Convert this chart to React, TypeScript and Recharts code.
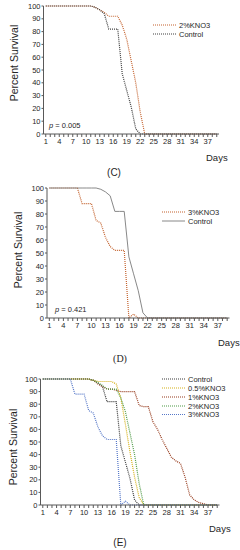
import { LineChart, Line, XAxis, YAxis } from "recharts";

// days 1..39 on a category-like numeric axis
const days = [
  1, 2, 3, 4, 5, 6, 7, 8, 9, 10, 11, 12, 13, 14, 15, 16, 17, 18, 19, 20,
  21, 22, 23, 24, 25, 26, 27, 28, 29, 30, 31, 32, 33, 34, 35, 36, 37, 38, 39,
];
const dayLabels = [1, 4, 7, 10, 13, 16, 19, 22, 25, 28, 31, 34, 37];
const percentTicks = [0, 10, 20, 30, 40, 50, 60, 70, 80, 90, 100];

// percent survival per day
const control = [
  100, 100, 100, 100, 100, 100, 100, 100, 100, 100, 100, 99, 97, 94, 82, 82, 82, 47, 34, 21,
  4, 0, 0, 0, 0, 0, 0, 0, 0, 0, 0, 0, 0, 0, 0, 0, 0, 0, 0,
];
const kno3_05 = [
  100, 100, 100, 100, 100, 100, 100, 100, 100, 100, 100, 99, 98, 98, 98, 98, 96, 85, 64, 42,
  22, 6, 0, 0, 0, 0, 0, 0, 0, 0, 0, 0, 0, 0, 0, 0, 0, 0, 0,
];
const kno3_1 = [
  100, 100, 100, 100, 100, 100, 100, 100, 100, 100, 100, 99, 96, 94, 92, 92, 91, 90, 90, 90,
  90, 79, 78, 78, 66, 60, 52, 45, 38, 35, 33, 22, 8, 4, 2, 1, 0, 0, 0,
];
const kno3_2 = [
  100, 100, 100, 100, 100, 100, 100, 100, 100, 100, 100, 99, 97, 95, 92, 92, 92, 85, 74, 57,
  40, 17, 0, 0, 0, 0, 0, 0, 0, 0, 0, 0, 0, 0, 0, 0, 0, 0, 0,
];
const kno3_3 = [
  100, 100, 100, 100, 100, 100, 100, 88, 88, 88, 75, 73, 62, 55, 52, 52, 52, 0, 3, 0,
  0, 0, 0, 0, 0, 0, 0, 0, 0, 0, 0, 0, 0, 0, 0, 0, 0, 0, 0,
];

const rows = days.map((day, i) => ({
  day,
  control: control[i],
  kno3_05: kno3_05[i],
  kno3_1: kno3_1[i],
  kno3_2: kno3_2[i],
  kno3_3: kno3_3[i],
}));

const FONT = '"Liberation Sans", Arial, sans-serif';
const INK = "#262626";
const AXIS = "#595959";
const ORANGE = "#c4632f";
const DOT = "1 1";

type Series = { key: string; name: string; color: string; dash?: string; width?: number };

type PanelProps = {
  top: number;
  height: number;
  plotTop: number;
  plotBottom: number;
  plotLeft: number;
  plotRight: number;
  series: Series[];
  legendX: number;
  legendRows: number[];
  title: [number, number];
  pValue?: { text: string; x: number; y: number };
  daysAt: [number, number];
  caption: { text: string; x: number; y: number; serif?: boolean };
};

function Panel(p: PanelProps) {
  const rel = (y: number) => y - p.top;
  const abs = { position: "absolute" as const, whiteSpace: "nowrap" as const, lineHeight: 1, color: INK };

  return (
    <div style={{ position: "absolute", left: 0, top: p.top, width: 240, height: p.height }}>
      <LineChart
        width={240}
        height={p.height}
        data={rows}
        margin={{ top: rel(p.plotTop), right: 240 - p.plotRight, bottom: 0, left: 0 }}
      >
        <XAxis
          type="number"
          dataKey="day"
          domain={[0.5, 39.5]}
          ticks={days}
          interval={0}
          tickFormatter={(v) => (dayLabels.includes(v) ? String(v) : "")}
          height={p.height - rel(p.plotBottom)}
          tickSize={3}
          tickMargin={2}
          stroke={AXIS}
          tick={{ fill: INK, fontSize: 7.5, fontFamily: FONT }}
        />
        <YAxis
          type="number"
          domain={[0, 100]}
          ticks={percentTicks}
          interval={0}
          width={p.plotLeft}
          tickSize={2}
          tickMargin={1}
          stroke={AXIS}
          tick={{ fill: INK, fontSize: 7.5, fontFamily: FONT }}
        />
        {p.series.map((s) => (
          <Line
            key={s.key}
            type="linear"
            dataKey={s.key}
            name={s.name}
            stroke={s.color}
            strokeWidth={s.width ?? 1.2}
            strokeDasharray={s.dash}
            dot={false}
            isAnimationActive={false}
          />
        ))}
      </LineChart>

      {/* legend */}
      <svg style={{ position: "absolute", left: 0, top: 0, overflow: "visible" }} width={240} height={p.height}>
        {p.series.map((s, i) => (
          <g key={s.key}>
            <line
              x1={p.legendX}
              x2={p.legendX + 23}
              y1={rel(p.legendRows[i])}
              y2={rel(p.legendRows[i])}
              stroke={s.color}
              strokeWidth={s.width ?? 1.2}
              strokeDasharray={s.dash}
            />
            <text
              x={p.legendX + 26}
              y={rel(p.legendRows[i])}
              dy="0.35em"
              fontSize={7.5}
              fontFamily={FONT}
              fill={INK}
            >
              {s.name}
            </text>
          </g>
        ))}
      </svg>

      <div
        style={{
          ...abs,
          left: p.title[0],
          top: rel(p.title[1]),
          fontSize: 10.5,
          transform: "translate(-50%, -50%) rotate(-90deg)",
        }}
      >
        Percent Survival
      </div>

      {p.pValue && (
        <div style={{ ...abs, left: p.pValue.x, top: rel(p.pValue.y), fontSize: 7.5, transform: "translateY(-50%)" }}>
          <i>p</i> = {p.pValue.text}
        </div>
      )}

      <div style={{ ...abs, left: p.daysAt[0], top: rel(p.daysAt[1]), fontSize: 9.5, transform: "translateY(-50%)" }}>
        Days
      </div>

      <div
        style={{
          ...abs,
          left: p.caption.x,
          top: rel(p.caption.y),
          fontSize: 10,
          fontFamily: p.caption.serif ? '"Liberation Serif", serif' : FONT,
          transform: "translate(-50%, -50%)",
        }}
      >
        {p.caption.text}
      </div>
    </div>
  );
}

export default function App() {
  return (
    <div
      style={{
        position: "absolute",
        left: 0,
        top: 0,
        width: 240,
        height: 550,
        overflow: "hidden",
        background: "#fff",
        fontFamily: FONT,
      }}
    >
      <Panel
        top={0}
        height={150}
        plotTop={6}
        plotBottom={134}
        plotLeft={43.5}
        plotRight={219}
        series={[
          { key: "kno3_2", name: "2%KNO3", color: ORANGE, dash: DOT },
          { key: "control", name: "Control", color: "#404040", dash: DOT },
        ]}
        legendX={153}
        legendRows={[25, 34]}
        title={[14, 63]}
        pValue={{ text: "0.005", x: 49, y: 126 }}
        daysAt={[206, 158]}
        caption={{ text: "(C)", x: 114, y: 173 }}
      />
      <Panel
        top={180}
        height={155}
        plotTop={188}
        plotBottom={318}
        plotLeft={47}
        plotRight={229.5}
        series={[
          { key: "kno3_3", name: "3%KNO3", color: ORANGE, dash: DOT },
          { key: "control", name: "Control", color: "#7a7a7a", width: 0.9 },
        ]}
        legendX={162}
        legendRows={[212, 221]}
        title={[18, 250]}
        pValue={{ text: "0.421", x: 55, y: 310 }}
        daysAt={[218, 343]}
        caption={{ text: "(D)", x: 120, y: 359, serif: true }}
      />
      <Panel
        top={370}
        height={155}
        plotTop={379}
        plotBottom={505}
        plotLeft={40.5}
        plotRight={219.5}
        series={[
          { key: "control", name: "Control", color: "#3a3a3a", dash: DOT },
          { key: "kno3_05", name: "0.5%KNO3", color: "#d6b11a", dash: DOT },
          { key: "kno3_1", name: "1%KNO3", color: "#963a1c", dash: DOT },
          { key: "kno3_2", name: "2%KNO3", color: "#4f9a47", dash: DOT },
          { key: "kno3_3", name: "3%KNO3", color: "#5577c8", dash: DOT },
        ]}
        legendX={162}
        legendRows={[379, 388, 397, 406, 414.5]}
        title={[12.5, 447]}
        daysAt={[209, 529]}
        caption={{ text: "(E)", x: 120, y: 543 }}
      />
    </div>
  );
}
